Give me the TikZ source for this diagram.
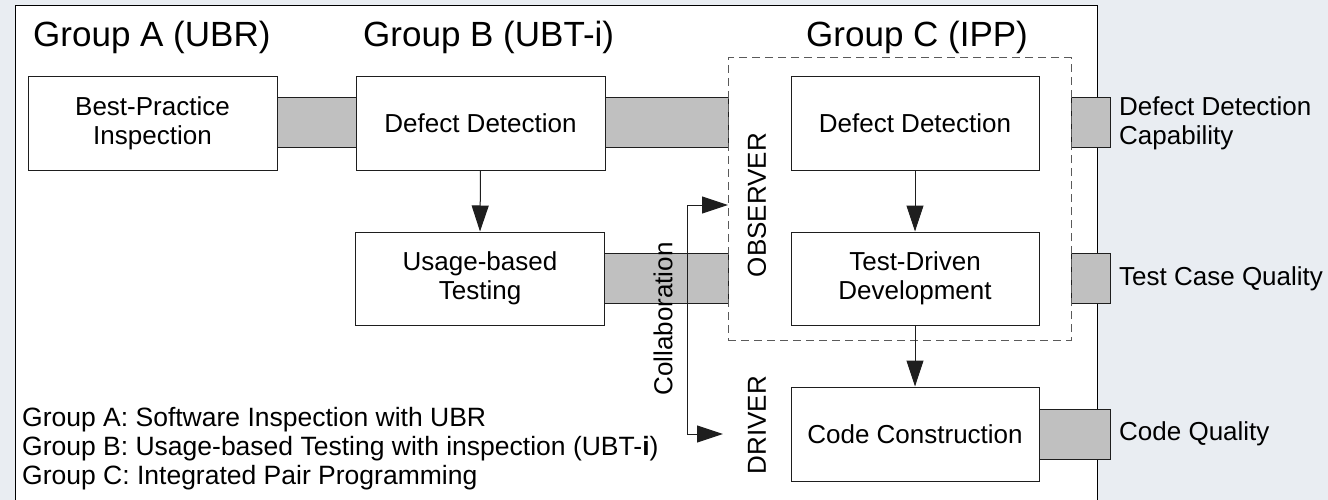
\documentclass[tikz,border=0pt]{standalone}
\usepackage{fontspec}
\setmainfont{Liberation Sans}
\usetikzlibrary{arrows.meta}
\definecolor{bgc}{RGB}{233,237,242}
\definecolor{barfill}{RGB}{192,192,192}
\definecolor{linec}{RGB}{30,30,30}
\definecolor{dashc}{RGB}{90,90,90}
\newcommand{\boxfont}{\fontsize{26}{29}\selectfont}
\newcommand{\legfont}{\fontsize{26.5}{29}\selectfont}
\newcommand{\titlefont}{\fontsize{35}{40}\selectfont}
\begin{document}
\begin{tikzpicture}[x=1pt,y=-1pt,
  procbox/.style={draw=linec, fill=white, line width=1pt, minimum width=249pt, minimum height=93pt, align=center, font=\boxfont, inner sep=0pt},
  graybar/.style={draw=linec, fill=barfill, line width=1pt, inner sep=0pt, minimum height=50pt},
  arr/.style={line width=1pt, draw=linec, -{Triangle[length=26pt,width=17pt]}},
  lbl/.style={font=\boxfont, inner sep=0pt},
  leg/.style={font=\legfont, inner sep=0pt, anchor=base west},
  ttl/.style={font=\titlefont, inner sep=0pt, anchor=base west}]
\useasboundingbox (0,0) rectangle (1328,500);
\fill[bgc] (0,0) rectangle (1328,500);
\fill[white] (15,6) rectangle (1097,505);
\draw[black, line width=1pt] (15,505) -- (15,6) -- (1097,6) -- (1097,505);

% titles
\node[ttl] (ta) at (33,47) {Group A (UBR)};
\node[ttl] (tb) at (363,47) {Group B (UBT-i)};
\node[ttl] (tc) at (806,47) {Group C (IPP)};

% gray bars
\node[graybar, minimum width=79pt] (g1) at (316.5,123) {};
\node[graybar, minimum width=123pt] (g2) at (666.5,123) {};
\node[graybar, minimum width=124pt] (g3) at (666,278.5) {};
\node[graybar, minimum width=39pt] (g4) at (1090.5,123) {};
\node[graybar, minimum width=39pt] (g5) at (1090.5,278.5) {};
\node[graybar, minimum width=71pt] (g6) at (1074.5,434) {};

% boxes
\node[procbox] (A) at (152.5,123.5) {Best-Practice\\Inspection};
\node[procbox] (B1) at (480.5,123.5) {Defect Detection};
\node[procbox] (B2) at (480,278.5) {Usage-based\\Testing};
\node[procbox, minimum width=248pt] (C1) at (915,123.5) {Defect Detection};
\node[procbox, minimum width=248pt] (C2) at (915,278.5) {Test-Driven\\Development};
\node[procbox, minimum width=248pt, minimum height=94pt] (CC) at (915,434) {Code Construction};

% observer dashed box
\node[draw=dashc, line width=1pt, dash pattern=on 8pt off 5pt, minimum width=343pt, minimum height=282pt, inner sep=0pt] (obs) at (899.5,199) {};

% arrows
\draw[arr] (B1.south) -- (B2.north);
\draw[arr] (C1.south) -- (C2.north);
\draw[arr] (C2.south) -- (CC.north);

% collaboration
\coordinate (colTop) at (687,205);
\coordinate (colBot) at (687,434);
\coordinate (obsTip) at (728,205);
\coordinate (drvTip) at (723,434);
\draw[line width=1pt, draw=linec, {Triangle[length=26pt,width=17pt]}-{Triangle[length=26pt,width=17pt]}] (obsTip) -- (colTop) -- (colBot) -- (drvTip);

% rotated labels
\node[lbl, rotate=90] (obsl) at (757,205) {OBSERVER};
\node[lbl, rotate=90] (colab) at (663,319) {Collaboration};
\node[lbl, rotate=90] (drv) at (757,425) {DRIVER};

% right labels
\node[lbl, anchor=west, align=left] (r1) at (1119,123) {Defect Detection\\Capability};
\node[lbl, anchor=west] (r2) at (1119,278.5) {Test Case Quality};
\node[lbl, anchor=west] (r3) at (1119,434) {Code Quality};

% legend
\node[leg] (l1) at (22,426) {Group A: Software Inspection with UBR};
\node[leg] (l2) at (22,455) {Group B: Usage-based Testing with inspection (UBT-\textbf{i})};
\node[leg] (l3) at (22,484) {Group C: Integrated Pair Programming};
\end{tikzpicture}
\end{document}
